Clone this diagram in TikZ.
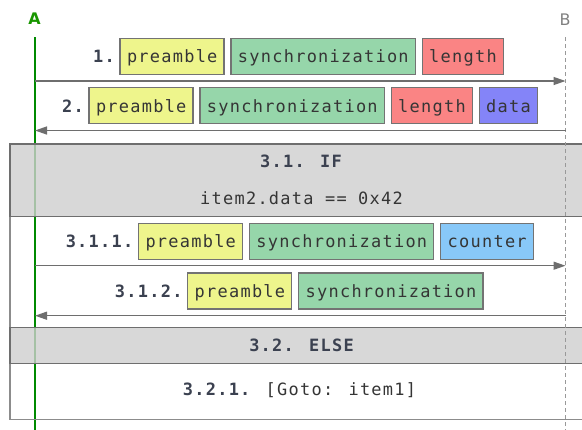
\documentclass[tikz,border=0pt]{standalone}
\usepackage{fontspec}
\setmainfont{DejaVu Sans}
\newfontfamily\mono[LetterSpace=7.5]{DejaVu Sans Mono}
\usetikzlibrary{arrows.meta,positioning}
\definecolor{cpre}{HTML}{EEF58C}
\definecolor{csync}{HTML}{96D6AA}
\definecolor{clen}{HTML}{FA8484}
\definecolor{cdata}{HTML}{8484F8}
\definecolor{ccnt}{HTML}{88C8F8}
\definecolor{ctxt}{HTML}{353535}
\definecolor{clab}{HTML}{3B4150}
\definecolor{chead}{HTML}{CFCFCF}
\definecolor{cline}{HTML}{6E6E6E}
\definecolor{cgreen}{HTML}{008A00}
\tikzset{
  field/.style={draw=black!55, line width=1.2bp, outer sep=0pt, inner xsep=6.5bp, inner ysep=0pt,
    minimum height=36bp, text height=16bp, text depth=3bp, text=ctxt,
    font=\mono\fontsize{17}{20}\selectfont},
  lab/.style={inner sep=0pt, text height=16bp, text depth=3bp, text=clab,
    font=\mono\fontsize{17}{20}\selectfont\bfseries},
  hdr/.style={inner sep=0pt, text=clab, font=\mono\fontsize{17}{20}\selectfont\bfseries},
  txt/.style={inner sep=0pt, text=ctxt, font=\mono\fontsize{17}{20}\selectfont},
  headbox/.style={fill=chead, fill opacity=0.8, draw=cline, line width=1.3bp},
  frame/.style={draw=black!45, line width=1.2bp},
  msg/.style={draw=cline, line width=1.3bp, -{Triangle[length=12bp,width=8bp]}},
  gap/.style={right=7bp of #1}
}
\begin{document}
\begin{tikzpicture}[x=1bp,y=-1bp]
\clip (0,0) rectangle (582,429);
\fill[white] (0,0) rectangle (582,429);
% lifelines
\node[font=\fontsize{16}{18}\selectfont\bfseries, text=cgreen!90!yellow, anchor=base] (A) at (34.5,24.5) {A};
\node[font=\fontsize{16}{18}\selectfont, text=black!50, anchor=base] (B) at (565,25) {B};
\coordinate (Atop) at (35,37);
\coordinate (Abot) at (35,430);
\coordinate (Btop) at (565.5,37);
\coordinate (Bbot) at (565.5,430);
\draw[cgreen, line width=2bp] (Atop) -- (Abot);
% frame and headers
\draw[frame] (10,144) rectangle (600,419.3);
\draw[headbox] (10,144) rectangle (600,216.7);
\draw[headbox] (10,327.5) rectangle (600,363.5);
\draw[black!40, line width=1.2bp, dash pattern=on 4bp off 3bp] (Btop) -- (Bbot);
% row 1
\node[field, fill=cpre, anchor=west] (p1) at (120,56.3) {\kern0.5bp preamble};
\node[field, fill=csync, gap=p1] (s1) {\kern0.5bp synchronization};
\node[field, fill=clen, gap=s1] (l1) {\kern0.5bp length};
\node[lab, anchor=east] (n1) at ([xshift=-5bp]p1.west) {1.};
\coordinate (a1) at (35,81); \coordinate (b1) at (565.5,81);
\draw[msg] (a1) -- (b1);
% row 2
\node[field, fill=cpre, anchor=west] (p2) at (89,105.8) {\kern0.5bp preamble};
\node[field, fill=csync, gap=p2] (s2) {\kern0.5bp synchronization};
\node[field, fill=clen, gap=s2] (l2) {\kern0.5bp length};
\node[field, fill=cdata, gap=l2] (d2) {\kern0.5bp data};
\node[lab, anchor=east] (n2) at ([xshift=-5bp]p2.west) {2.};
\coordinate (a2) at (35,130.5); \coordinate (b2) at (565.5,130.5);
\draw[msg] (b2) -- (a2);
% IF header
\node[hdr, anchor=base] (if) at (301,167.3) {3.1. IF};
\node[txt, anchor=base] (cond) at (301.5,204) {item2.data == 0x42};
% row 3.1.1
\node[field, fill=cpre, anchor=west] (p3) at (138.5,241.3) {\kern0.5bp preamble};
\node[field, fill=csync, gap=p3] (s3) {\kern0.5bp synchronization};
\node[field, fill=ccnt, gap=s3] (c3) {\kern0.5bp counter};
\node[lab, anchor=east] (n3) at ([xshift=-5bp]p3.west) {3.1.1.};
\coordinate (a3) at (35,265.7); \coordinate (b3) at (565.5,265.7);
\draw[msg] (a3) -- (b3);
% row 3.1.2
\node[field, fill=cpre, anchor=west] (p4) at (187.7,291) {\kern0.5bp preamble};
\node[field, fill=csync, gap=p4] (s4) {\kern0.5bp synchronization};
\node[lab, anchor=east] (n4) at ([xshift=-5bp]p4.west) {3.1.2.};
\coordinate (a4) at (35,315.7); \coordinate (b4) at (565.5,315.7);
\draw[msg] (b4) -- (a4);
% ELSE
\node[hdr, anchor=base] (else) at (301.5,351.7) {3.2. ELSE};
\node[txt, anchor=base] (goto) at (299.5,395) {\textcolor{clab}{\bfseries 3.2.1.} [Goto: item1]};
\end{tikzpicture}
\end{document}
